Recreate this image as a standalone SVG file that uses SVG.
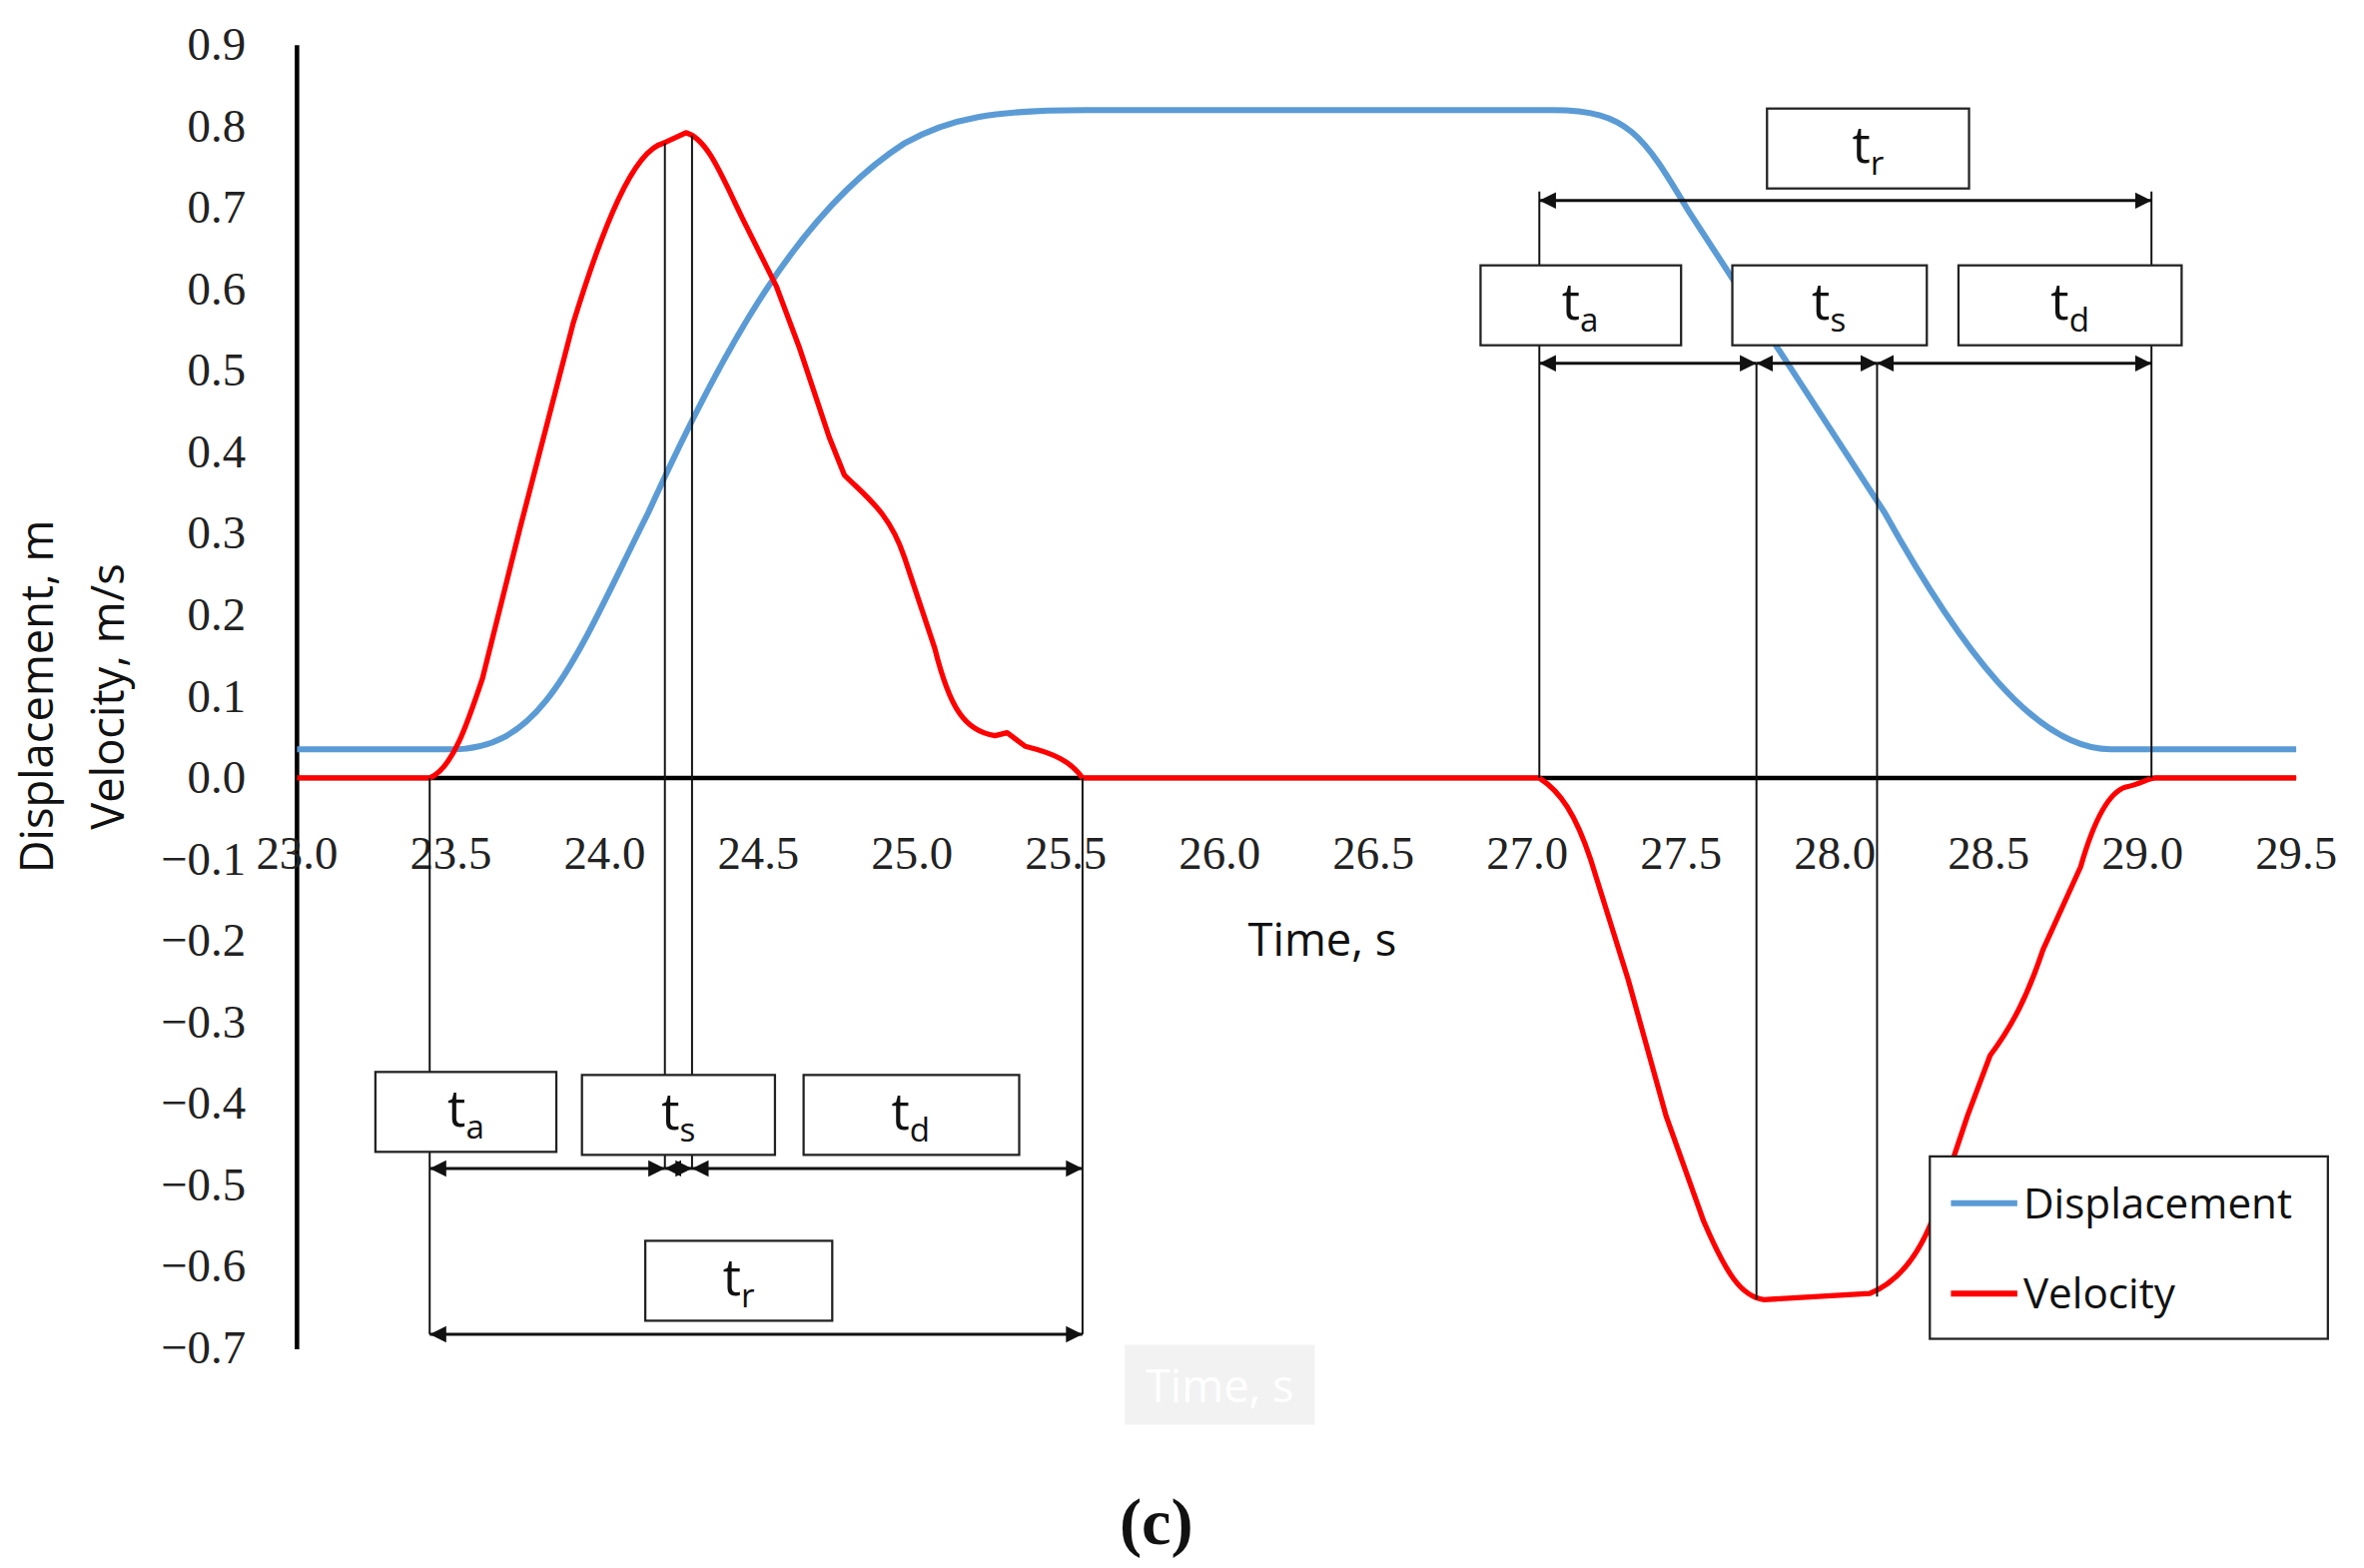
<svg xmlns="http://www.w3.org/2000/svg" width="2367" height="1570" viewBox="0 0 2367 1570">
<style>
.tick{font-family:"Liberation Serif",serif;font-size:31px;fill:#222}
.sans{font-family:"Open Sans","Liberation Sans",sans-serif;fill:#111}
.box{fill:#fff;stroke:#222;stroke-width:1.5}
.vl{stroke:#111;stroke-width:1.3;fill:none}
.ar{stroke:#111;stroke-width:2;fill:none;marker-start:url(#a);marker-end:url(#a)}
.lab{font-family:"Open Sans","Liberation Sans",sans-serif;font-size:34px;fill:#111;text-anchor:middle}
</style>
<defs>
<marker id="a" viewBox="0 0 10 10" refX="10" refY="5" markerWidth="11" markerHeight="12" orient="auto-start-reverse" markerUnits="userSpaceOnUse"><path d="M0,0L10,5L0,10z" fill="#111"/></marker>
</defs>
<rect width="2367" height="1570" fill="#fff"/>
<g transform="scale(1.5096)">
<g id="axes">
<line x1="197" y1="30" x2="197" y2="895" stroke="#000" stroke-width="3"/>
<line x1="197" y1="516" x2="1523" y2="516" stroke="#000" stroke-width="3"/>
<g class="tick" text-anchor="end">
<text x="163" y="40">0.9</text><text x="163" y="94">0.8</text><text x="163" y="148">0.7</text><text x="163" y="202">0.6</text><text x="163" y="256">0.5</text><text x="163" y="310">0.4</text><text x="163" y="364">0.3</text><text x="163" y="418">0.2</text><text x="163" y="472">0.1</text><text x="163" y="526">0.0</text><text x="163" y="580">−0.1</text><text x="163" y="634">−0.2</text><text x="163" y="688">−0.3</text><text x="163" y="742">−0.4</text><text x="163" y="796">−0.5</text><text x="163" y="850">−0.6</text><text x="163" y="904">−0.7</text>
</g>
<g class="tick" text-anchor="middle">
<text x="197" y="576">23.0</text><text x="299" y="576">23.5</text><text x="401" y="576">24.0</text><text x="503" y="576">24.5</text><text x="605" y="576">25.0</text><text x="707" y="576">25.5</text><text x="809" y="576">26.0</text><text x="911" y="576">26.5</text><text x="1013" y="576">27.0</text><text x="1115" y="576">27.5</text><text x="1217" y="576">28.0</text><text x="1319" y="576">28.5</text><text x="1421" y="576">29.0</text><text x="1523" y="576">29.5</text>
</g>
<text class="sans" x="877" y="634" font-size="30" text-anchor="middle">Time, s</text>
<text class="sans" font-size="30" text-anchor="middle" transform="translate(35,462) rotate(-90)">Displacement, m</text>
<text class="sans" font-size="30" text-anchor="middle" transform="translate(82,462) rotate(-90)">Velocity, m/s</text>
<rect x="746" y="892" width="126" height="53" fill="#f2f2f2"/>
<text x="809" y="930" font-family="Open Sans, Liberation Sans, sans-serif" font-size="30" fill="#fff" text-anchor="middle">Time, s</text>
<text x="767" y="1024" font-family="Liberation Serif, serif" font-size="44" font-weight="bold" fill="#111" text-anchor="middle">(c)</text>
</g>
<g id="curves">
<path d="M197,497 L300,497 C360,497 380,440 430,340 C480,230 530,140 600,95 C630,78 660,73 720,73 L1030,73 C1080,73 1090,90 1120,140 L1250,340 C1300,430 1350,497 1400,497 L1523,497" fill="none" stroke="#5b9bd5" stroke-width="4"/>
<path d="M197,516 L285,516 C300,510 310,480 320,450 L345,350 L380,215 C400,150 420,100 440,95 L455,88 C470,92 480,120 495,150 L515,190 L530,230 L550,290 L560,315 C575,330 590,340 600,370 L620,430 C630,470 640,485 660,488 L668,486 L680,495 C700,500 710,505 718,516 L1021,516 C1035,525 1045,540 1055,570 L1080,650 L1105,740 L1130,810 C1145,845 1155,860 1170,862 L1240,858 C1260,850 1275,830 1285,800 L1305,740 L1320,700 C1335,680 1345,660 1355,630 L1380,575 C1390,540 1400,525 1410,522 C1420,520 1425,516 1430,516 L1523,516" fill="none" stroke="#ff0000" stroke-width="3.5" stroke-linejoin="round"/>
</g>
<g id="connectors">
<line class="vl" x1="285" y1="516" x2="285" y2="885"/>
<line class="vl" x1="441" y1="95" x2="441" y2="775"/>
<line class="vl" x1="459" y1="90" x2="459" y2="775"/>
<line class="vl" x1="718" y1="516" x2="718" y2="885"/>
<line class="vl" x1="1021" y1="127" x2="1021" y2="516"/>
<line class="vl" x1="1165" y1="241" x2="1165" y2="862"/>
<line class="vl" x1="1245" y1="241" x2="1245" y2="860"/>
<line class="vl" x1="1427" y1="127" x2="1427" y2="516"/>
<line class="ar" x1="1021" y1="133" x2="1427" y2="133"/>
<line class="ar" x1="1021" y1="241" x2="1165" y2="241"/>
<line class="ar" x1="1165" y1="241" x2="1245" y2="241"/>
<line class="ar" x1="1245" y1="241" x2="1427" y2="241"/>
<line class="ar" x1="285" y1="775" x2="441" y2="775"/>
<line class="ar" x1="441" y1="775" x2="459" y2="775"/>
<line class="ar" x1="459" y1="775" x2="718" y2="775"/>
<line class="ar" x1="285" y1="885" x2="718" y2="885"/>
</g>
<g id="tr-right"><rect class="box" x="1172" y="72" width="134" height="53"/><text class="lab" x="1239" y="108">t<tspan font-size="22" dy="8">r</tspan></text></g>
<g id="ta-right"><rect class="box" x="982" y="176" width="133" height="53"/><text class="lab" x="1048" y="212">t<tspan font-size="22" dy="8">a</tspan></text></g>
<g id="ts-right"><rect class="box" x="1149" y="176" width="129" height="53"/><text class="lab" x="1213" y="212">t<tspan font-size="22" dy="8">s</tspan></text></g>
<g id="td-right"><rect class="box" x="1299" y="176" width="148" height="53"/><text class="lab" x="1373" y="212">t<tspan font-size="22" dy="8">d</tspan></text></g>
<g id="ta-left"><rect class="box" x="249" y="711" width="120" height="53"/><text class="lab" x="309" y="747">t<tspan font-size="22" dy="8">a</tspan></text></g>
<g id="ts-left"><rect class="box" x="386" y="713" width="128" height="53"/><text class="lab" x="450" y="749">t<tspan font-size="22" dy="8">s</tspan></text></g>
<g id="td-left"><rect class="box" x="533" y="713" width="143" height="53"/><text class="lab" x="604" y="749">t<tspan font-size="22" dy="8">d</tspan></text></g>
<g id="tr-left"><rect class="box" x="428" y="823" width="124" height="53"/><text class="lab" x="490" y="859">t<tspan font-size="22" dy="8">r</tspan></text></g>
<g id="legend">
<rect class="box" x="1280" y="767" width="264" height="121"/>
<line x1="1294" y1="798" x2="1338" y2="798" stroke="#5b9bd5" stroke-width="4"/>
<line x1="1294" y1="858" x2="1338" y2="858" stroke="#ff0000" stroke-width="4"/>
<text class="sans" x="1342" y="808" font-size="28">Displacement</text>
<text class="sans" x="1342" y="868" font-size="28">Velocity</text>
</g>
</g>
</svg>
